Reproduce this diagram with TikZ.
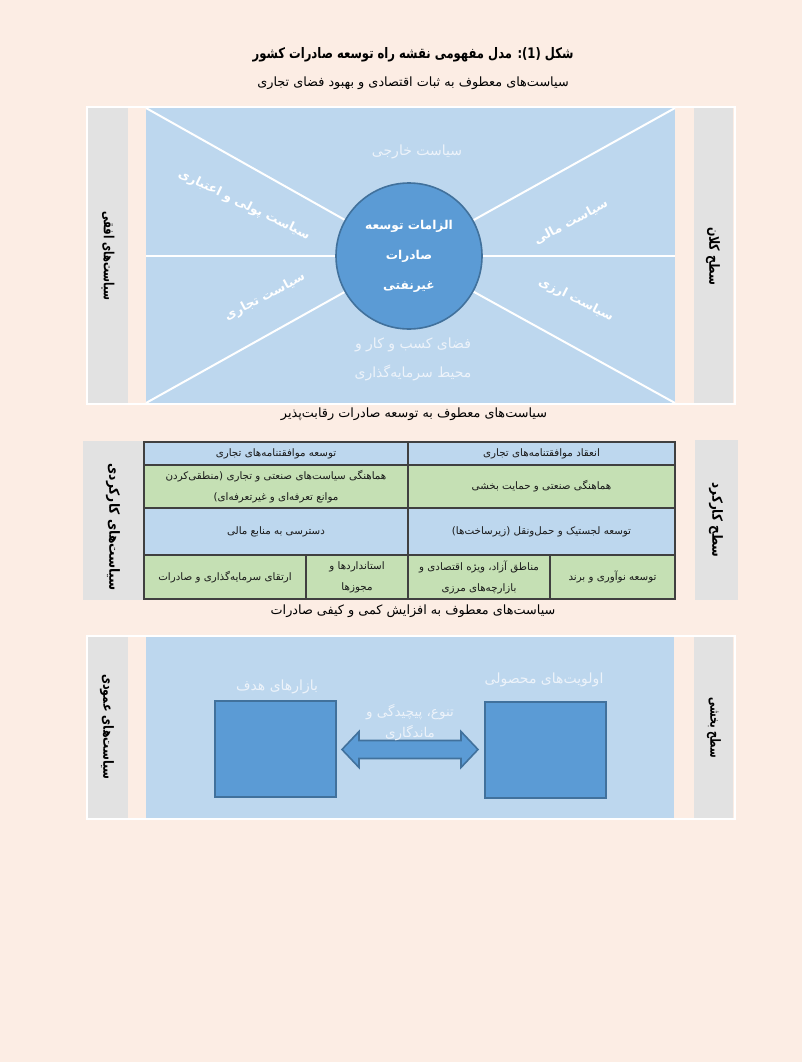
\documentclass[tikz,border=0pt]{standalone}
\usepackage{fontspec}
\newfontfamily\ar[Script=Arabic]{DejaVu Sans}
\TeXXeTstate=1
\newcommand{\rl}[1]{\beginR #1\endR}
\definecolor{bg}{HTML}{FCEDE4}
\definecolor{pblue}{HTML}{BDD7EE}
\definecolor{cblue}{HTML}{5B9BD5}
\definecolor{cedge}{HTML}{41719C}
\definecolor{tgreen}{HTML}{C5E0B4}
\definecolor{tblue}{HTML}{BDD7EE}
\definecolor{stripc}{HTML}{E2E2E2}
\definecolor{ltext}{HTML}{EDF3FA}
\definecolor{tline}{HTML}{404040}
\tikzset{
  captext/.style={font=\ar\fontsize{12.8}{15}\selectfont, text=black, inner sep=0},
  vlabel/.style={font=\ar\bfseries\fontsize{14}{16}\selectfont, text=black, rotate=-90, inner sep=0},
  softtext/.style={font=\ar\fontsize{14}{16}\selectfont, text=ltext, inner sep=0},
  slanttext/.style={font=\ar\bfseries\fontsize{12.5}{14}\selectfont, text=white, inner sep=0},
  tcell/.style={draw=tline, line width=1.1pt, anchor=north west, inner sep=0, outer sep=0,
    align=center, font=\ar\fontsize{10.3}{21}\selectfont, text=black!90},
  rays/.style={draw=white, line width=2pt},
  square/.style={fill=cblue, draw=cedge, line width=2pt, inner sep=0, minimum width=121pt, minimum height=96pt},
}
\begin{document}
\begin{tikzpicture}[x=1pt,y=-1pt]
\fill[bg] (0,0) rectangle (802,1062);
\useasboundingbox (0,0) rectangle (802,1062);

% title and first caption
\node[font=\ar\bfseries\fontsize{14.5}{18}\selectfont, inner sep=0] (title) at (413,55)
  {\scalebox{0.8}[1]{\beginR شکل \beginL(1)\endL: مدل مفهومی نقشه راه توسعه صادرات کشور\endR}};
\node[captext] (cap1) at (413,83) {\rl{سیاست‌های معطوف به ثبات اقتصادی و بهبود فضای تجاری}};

% ---------- panel 1 ----------
\draw[white, line width=1.5pt] (87,107) rectangle (735,404);
\fill[stripc] (88,108) rectangle (128,403);
\fill[stripc] (694,108) rectangle (733,403);
\fill[pblue] (146,108) rectangle (675,403);
\node[vlabel] (h1) at (108,256) {\scalebox{0.72}[1]{\beginR سیاست‌های افقی\endR}};
\node[vlabel] (v1) at (713,256) {\scalebox{0.79}[1]{\beginR سطح کلان\endR}};

\coordinate (ptl) at (146,108);
\coordinate (pml) at (146,256);
\coordinate (pbl) at (146,403);
\coordinate (ptr) at (675,108);
\coordinate (pmr) at (675,256);
\coordinate (pbr) at (675,403);
\node[circle, minimum size=146pt, inner sep=0] (core) at (409,256) {};
\draw[rays] (ptl) -- (core);
\draw[rays] (pml) -- (core);
\draw[rays] (pbl) -- (core);
\draw[rays] (ptr) -- (core);
\draw[rays] (pmr) -- (core);
\draw[rays] (pbr) -- (core);
\node[circle, minimum size=146pt, inner sep=0, fill=cblue, draw=cedge, line width=1.6pt,
  align=center, text=white, font=\ar\bfseries\fontsize{12.2}{30}\selectfont] (corefill) at (409,256)
  {\rl{الزامات توسعه}\\\rl{صادرات}\\\rl{غیرنفتی}};

\node[softtext] (foreign) at (417,152) {\rl{سیاست خارجی}};
\node[softtext, align=center, font=\ar\fontsize{14}{29}\selectfont] (business) at (413,359)
  {\rl{فضای کسب و کار و}\\\rl{محیط سرمایه‌گذاری}};
\node[slanttext, rotate=-26] (monetary) at (244,205) {\rl{سیاست پولی و اعتباری}};
\node[slanttext, rotate=28] (trade) at (265,297) {\rl{سیاست تجاری}};
\node[slanttext, rotate=28] (fiscal) at (571,222) {\rl{سیاست مالی}};
\node[slanttext, rotate=-27] (fx) at (576,300) {\rl{سیاست ارزی}};

\node[captext] (cap2) at (414,414) {\rl{سیاست‌های معطوف به توسعه صادرات رقابت‌پذیر}};

% ---------- panel 2 ----------
\fill[stripc] (83,441) rectangle (143,600);
\fill[stripc] (695,440) rectangle (738,600);
\node[vlabel] (h2) at (113,527) {\scalebox{0.88}[1]{\beginR سیاست‌های کارکردی\endR}};
\node[vlabel] (v2) at (716,520) {\scalebox{0.85}[1]{\beginR سطح کارکرد\endR}};

\node[tcell, fill=tblue, minimum width=264pt, minimum height=23pt] (r1l) at (144,442) {\rl{توسعه موافقتنامه‌های تجاری}};
\node[tcell, fill=tblue, minimum width=267pt, minimum height=23pt] (r1r) at (408,442) {\rl{انعقاد موافقتنامه‌های تجاری}};
\node[tcell, fill=tgreen, minimum width=264pt, minimum height=43pt] (r2l) at (144,465)
  {\rl{هماهنگی سیاست‌های صنعتی و تجاری (منطقی‌کردن}\\\rl{موانع تعرفه‌ای و غیرتعرفه‌ای)}};
\node[tcell, fill=tgreen, minimum width=267pt, minimum height=43pt] (r2r) at (408,465) {\rl{هماهنگی صنعتی و حمایت بخشی}};
\node[tcell, fill=tblue, minimum width=264pt, minimum height=47pt] (r3l) at (144,508) {\rl{دسترسی به منابع مالی}};
\node[tcell, fill=tblue, minimum width=267pt, minimum height=47pt] (r3r) at (408,508) {\rl{توسعه لجستیک و حمل‌ونقل (زیرساخت‌ها)}};
\node[tcell, fill=tgreen, minimum width=162pt, minimum height=44pt] (r4a) at (144,555) {\rl{ارتقای سرمایه‌گذاری و صادرات}};
\node[tcell, fill=tgreen, minimum width=102pt, minimum height=44pt] (r4b) at (306,555) {\rl{استانداردها و}\\\rl{مجوزها}};
\node[tcell, fill=tgreen, minimum width=142pt, minimum height=44pt] (r4c) at (408,555) {\rl{مناطق آزاد، ویژه اقتصادی و}\\\rl{بازارچه‌های مرزی}};
\node[tcell, fill=tgreen, minimum width=125pt, minimum height=44pt] (r4d) at (550,555) {\rl{توسعه نوآوری و برند}};

\node[captext] (cap3) at (413,611) {\rl{سیاست‌های معطوف به افزایش کمی و کیفی صادرات}};

% ---------- panel 3 ----------
\draw[white, line width=1.5pt] (87,636) rectangle (735,819);
\fill[stripc] (88,637) rectangle (128,818);
\fill[stripc] (694,637) rectangle (733,818);
\fill[pblue] (146,637) rectangle (674,818);
\node[vlabel] (h3) at (107,727) {\scalebox{0.79}[1]{\beginR سیاست‌های عمودی\endR}};
\node[vlabel] (v3) at (714,728) {\scalebox{0.7}[1]{\beginR سطح بخشی\endR}};

\node[square] (mk) at (275.5,749) {};
\node[square] (pr) at (545.5,750) {};
\coordinate (al) at ([xshift=5pt]mk.east);
\fill[cblue, draw=cedge, line width=1.6pt]
  ([yshift=-0.5pt]al) -- ++(17,-18) -- ++(0,9) -- ++(102,0) -- ++(0,-9) -- ++(17,18)
  -- ++(-17,18) -- ++(0,-9) -- ++(-102,0) -- ++(0,9) -- cycle;
\node[softtext] (lmk) at (277,687) {\rl{بازارهای هدف}};
\node[softtext] (lpr) at (544,680) {\rl{اولویت‌های محصولی}};
\node[softtext, align=center, font=\ar\fontsize{13.5}{21}\selectfont] (ldiv) at (410,723)
  {\rl{تنوع، پیچیدگی و}\\\rl{ماندگاری}};
\end{tikzpicture}
\end{document}
